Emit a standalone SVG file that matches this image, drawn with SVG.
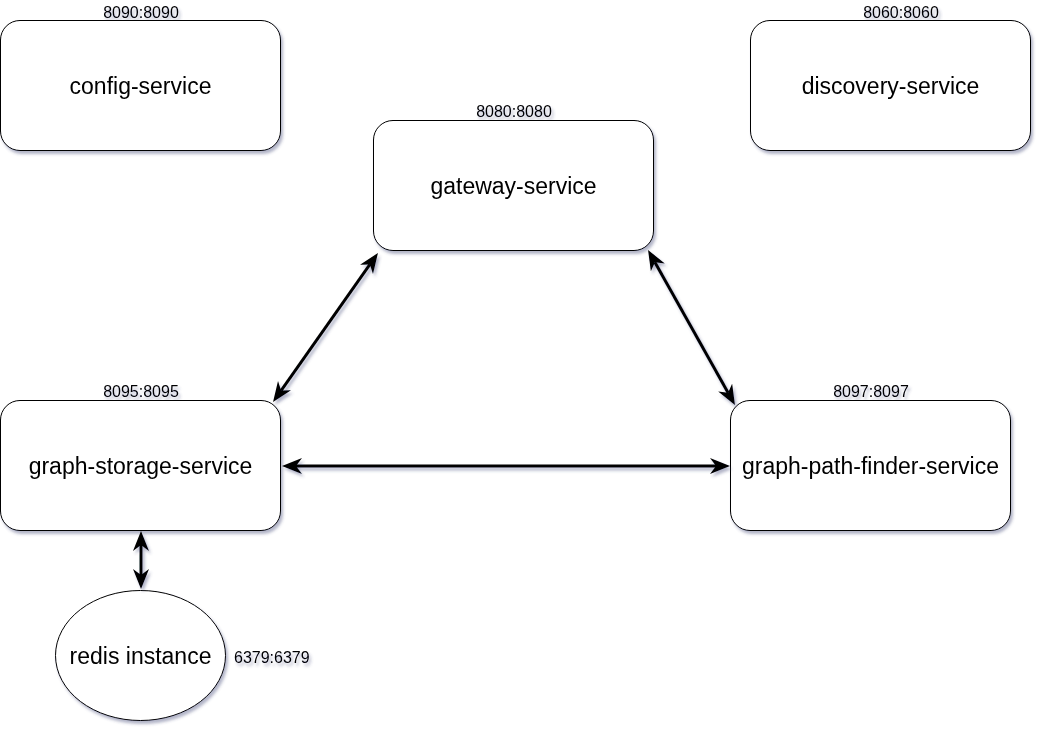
<svg xmlns="http://www.w3.org/2000/svg" width="1042" height="732" viewBox="0 0 1042 732">
<style>
.box{fill:#fff;stroke:#000;stroke-width:1}
.t{font-family:"Liberation Sans",Arial,sans-serif;font-size:23px;fill:#000;text-anchor:middle;dominant-baseline:central}
.p{font-family:"Liberation Sans",Arial,sans-serif;font-size:16px;fill:#000;text-anchor:middle}
.c{stroke:#000;stroke-width:3;fill:none;marker-start:url(#ah);marker-end:url(#ah)}
</style>
<defs>
<filter id="sh" x="-10%" y="-10%" width="130%" height="130%">
<feDropShadow dx="2" dy="3" stdDeviation="1.5" flood-color="#3d4574" flood-opacity="0.4"/>
</filter>
<marker id="ah" markerUnits="userSpaceOnUse" markerWidth="21" markerHeight="17" refX="6" refY="8" orient="auto-start-reverse" viewBox="0 0 21 17">
<path d="M0,0 L20,8 L0,16 L6,8 Z" fill="#000"/>
</marker>
</defs>
<rect width="1042" height="732" fill="#fff"/>
<g id="config-service" filter="url(#sh)">
<rect class="box" x="0.5" y="20.5" width="280" height="130" rx="19.5"/>
<text class="t" x="140.5" y="86">config-service</text>
<text class="p" x="141" y="18">8090:8090</text>
</g>
<g id="discovery-service" filter="url(#sh)">
<rect class="box" x="750.5" y="20.5" width="280" height="130" rx="19.5"/>
<text class="t" x="890.5" y="86">discovery-service</text>
<text class="p" x="901" y="18">8060:8060</text>
</g>
<g id="gateway-service" filter="url(#sh)">
<rect class="box" x="373.5" y="120.5" width="280" height="130" rx="19.5"/>
<text class="t" x="513.5" y="186">gateway-service</text>
<text class="p" x="514" y="117">8080:8080</text>
</g>
<g id="graph-storage-service" filter="url(#sh)">
<rect class="box" x="0.5" y="400.5" width="280" height="130" rx="19.5"/>
<text class="t" x="140.5" y="466">graph-storage-service</text>
<text class="p" x="141" y="397">8095:8095</text>
</g>
<g id="graph-path-finder-service" filter="url(#sh)">
<rect class="box" x="730.5" y="400.5" width="280" height="130" rx="19.5"/>
<text class="t" x="870.5" y="466">graph-path-finder-service</text>
<text class="p" x="871" y="397">8097:8097</text>
</g>
<g id="redis-instance" filter="url(#sh)">
<ellipse class="box" cx="140.5" cy="655.5" rx="85" ry="65"/>
<text class="t" x="140.5" y="656">redis instance</text>
<text class="p" x="234" y="663" style="text-anchor:start">6379:6379</text>
</g>
<g id="connectors" filter="url(#sh)">
<line class="c" x1="369.9" y1="264.4" x2="281.1" y2="390.6"/>
<line class="c" x1="654.9" y1="262.2" x2="728.1" y2="392.8"/>
<line class="c" x1="296" y1="466" x2="716" y2="466"/>
<line class="c" x1="141" y1="545" x2="141" y2="575"/>
</g>
</svg>
